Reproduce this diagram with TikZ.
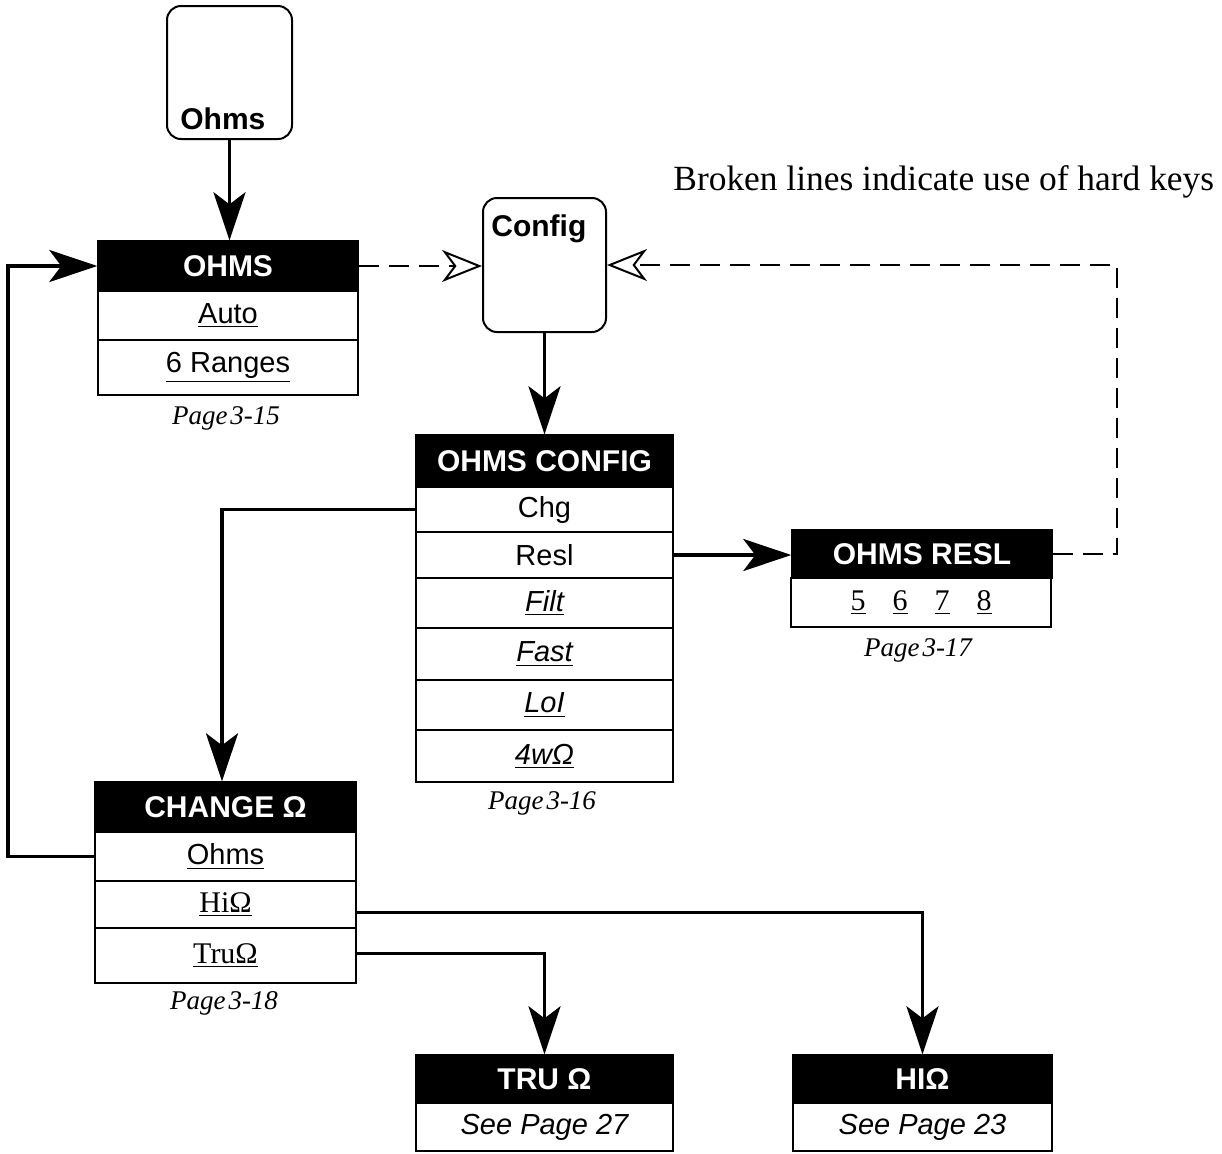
\documentclass[tikz,border=0pt]{standalone}
\usepackage{fontspec}
\setmainfont{Liberation Sans}
\newfontfamily\tnr{Liberation Serif}
\usetikzlibrary{arrows.meta}
\begin{document}
\begin{tikzpicture}[x=0.5pt,y=-0.5pt,
  hdr/.style={fill=black, draw=black, line width=0.7pt, text=white, font=\fontsize{15}{15}\selectfont\bfseries, inner sep=0pt},
  cell/.style={draw=black, line width=0.7pt, fill=white, font=\fontsize{14.5}{15}\selectfont, inner sep=0pt},
  keybox/.style={draw=black, line width=1pt, rounded corners=7pt, inner sep=0pt},
  keytxt/.style={font=\fontsize{15}{15}\selectfont\bfseries, inner sep=0pt, anchor=base west},
  pg/.style={font=\tnr\itshape\fontsize{13.5}{14}\selectfont, inner sep=0pt},
  flow/.style={line width=1.9pt, -{Stealth[length=24pt,width=16pt,inset=6pt]}},
  hard/.style={line width=1.2pt, dash pattern=on 10pt off 5pt, -{Stealth[open,fill=white,length=20pt,width=16pt,inset=6pt,line width=1pt]}},
]
\useasboundingbox (0,0) rectangle (1222,1153);

% keys
\node[keybox, minimum width=62.5pt, minimum height=66.5pt] (ohmskey) at (229.5,72.5) {};
\node[keytxt] (ohmskeytxt) at (180,129) {Ohms};
\node[keybox, minimum width=61.5pt, minimum height=67pt] (cfg) at (544.5,265) {};
\node[keytxt] (cfgtxt) at (491,236) {Config};

% note
\node[font=\tnr\fontsize{17.7}{18}\selectfont, anchor=base west, inner sep=0pt] (note) at (673,190) {Broken lines indicate use of hard keys};

% OHMS menu
\node[hdr, minimum width=130pt, minimum height=25pt] (ohmsh) at (228,266) {OHMS};
\node[cell, minimum width=130pt, minimum height=24.5pt] (auto) at (228,315.5) {\underline{Auto}};
\node[cell, minimum width=130pt, minimum height=27.5pt] (ranges) at (228,367.5) {\underline{6 Ranges}};
\node[pg] (p315) at (226,418) {Page\kern1.5pt 3-15};

% OHMS CONFIG menu
\node[hdr, minimum width=128.5pt, minimum height=26pt] (cfgh) at (544.5,461) {OHMS CONFIG};
\node[cell, minimum width=128.5pt, minimum height=22.5pt] (chg) at (544.5,509.5) {Chg};
\node[cell, minimum width=128.5pt, minimum height=23pt] (resl) at (544.5,555) {Resl};
\node[cell, minimum width=128.5pt, minimum height=25pt] (filt) at (544.5,603) {\underline{\itshape Filt}};
\node[cell, minimum width=128.5pt, minimum height=26pt] (fast) at (544.5,654) {\underline{\itshape Fast}};
\node[cell, minimum width=128.5pt, minimum height=25pt] (loi) at (544.5,705) {\underline{\itshape LoI}};
\node[cell, minimum width=128.5pt, minimum height=26pt] (fourw) at (544.5,756) {\underline{\itshape 4wΩ}};
\node[pg] (p316) at (542,803) {Page\kern1.5pt 3-16};

% OHMS RESL menu
\node[hdr, minimum width=130pt, minimum height=24pt] (reslh) at (922,554) {OHMS RESL};
\node[cell, minimum width=130pt, minimum height=24.5pt, font=\tnr\fontsize{15}{15}\selectfont] (digits) at (921,602.5) {\underline{5}\hspace{13.5pt}\underline{6}\hspace{13.5pt}\underline{7}\hspace{13.5pt}\underline{8}};
\node[pg] (p317) at (918,650) {Page\kern1.5pt 3-17};

% CHANGE menu
\node[hdr, minimum width=130.5pt, minimum height=25pt] (chgh) at (225.5,807) {CHANGE Ω};
\node[cell, minimum width=130.5pt, minimum height=24.5pt] (cohms) at (225.5,856.5) {\underline{Ohms}};
\node[cell, minimum width=130.5pt, minimum height=23.5pt, font=\tnr\fontsize{15}{15}\selectfont] (hi) at (225.5,904.5) {\underline{HiΩ}};
\node[cell, minimum width=130.5pt, minimum height=27.5pt, font=\tnr\fontsize{15}{15}\selectfont] (tru) at (225.5,955.5) {\underline{TruΩ}};
\node[pg] (p318) at (224,1003) {Page\kern1.5pt 3-18};

% TRU and HI boxes
\node[hdr, minimum width=128.5pt, minimum height=24pt] (truh) at (544.5,1079) {TRU Ω};
\node[cell, minimum width=128.5pt, minimum height=24pt, font=\fontsize{14.5}{15}\selectfont\itshape] (trup) at (544.5,1127) {See Page 27};
\node[hdr, minimum width=129.5pt, minimum height=24pt] (hioh) at (922.5,1079) {HIΩ};
\node[cell, minimum width=129.5pt, minimum height=24pt, font=\fontsize{14.5}{15}\selectfont\itshape] (hiop) at (922.5,1127) {See Page 23};

% solid connectors
\draw[flow] (ohmskey.south) -- (ohmskey.south |- ohmsh.north);
\draw[flow] (cfg.south) -- (cfg.south |- cfgh.north);
\coordinate (chgturn) at (222,509.5);
\draw[flow] (chg.west) -- (chgturn) -- (chgturn |- chgh.north);
\draw[flow] (resl.east) -- (resl.east -| reslh.west);
\coordinate (loop) at (8,856.5);
\draw[flow] (cohms.west) -- (loop) |- (ohmsh.west);
\draw[flow] ([yshift=-4pt]hi.east) -| (hioh.north);
\draw[flow] ([yshift=1pt]tru.east) -| (truh.north);

% dashed connectors (hard keys)
\draw[hard] (ohmsh.east) -- (ohmsh.east -| cfg.west);
\coordinate (ret) at (1117,554);
\draw[hard] (reslh.east) -- (ret) |- (cfg.east);
\end{tikzpicture}
\end{document}
